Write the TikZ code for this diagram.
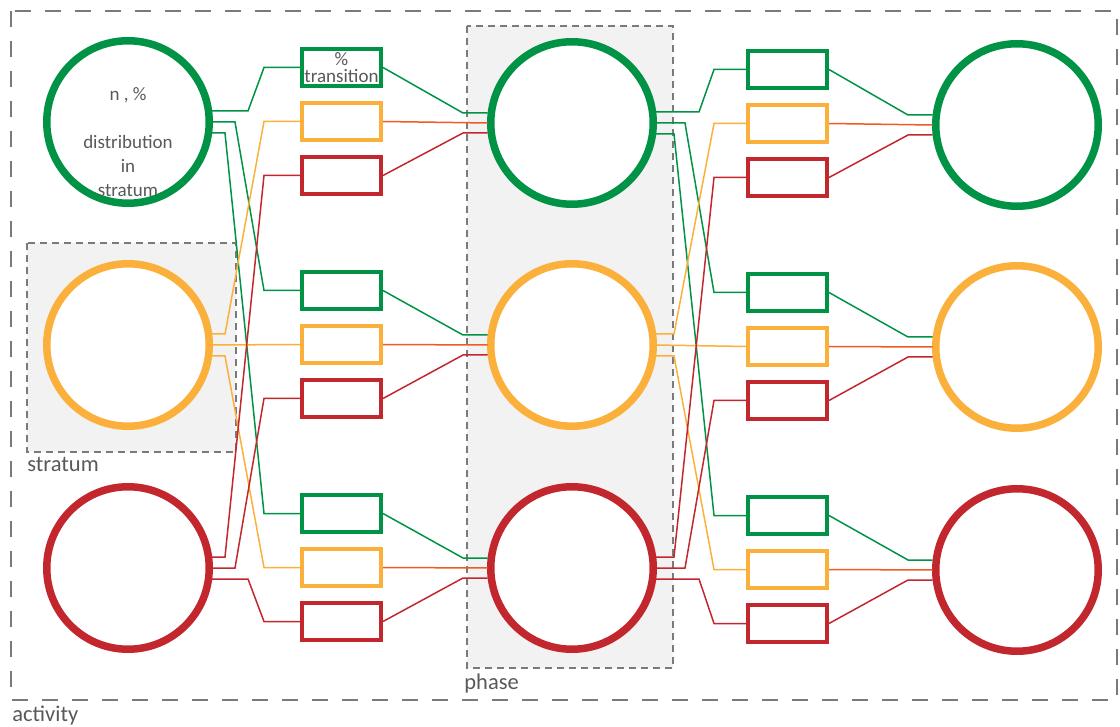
\documentclass[tikz,border=0pt]{standalone}
\usepackage{fontspec}
\setmainfont{Carlito}
\definecolor{stgreen}{HTML}{009245}
\definecolor{storange}{HTML}{FBB03B}
\definecolor{stred}{HTML}{C1272D}
\definecolor{lkorange}{HTML}{F15A24}
\definecolor{framegray}{HTML}{7A7A7A}
\definecolor{groupgray}{HTML}{F2F2F2}
\definecolor{textgray}{HTML}{595959}
\usetikzlibrary{calc,positioning}

\begin{document}
\begin{tikzpicture}[
  x=0.5pt, y=-0.5pt,
  stage/.style={circle, draw=#1, fill=white, line width=3.75pt, minimum size=81.25pt, inner sep=0pt},
  tbox/.style={draw=#1, fill=white, line width=2pt, minimum width=39.5pt, minimum height=18.5pt,
               inner sep=0pt, text=textgray, font=\fontsize{9.5}{8.6}\selectfont, align=center},
  link/.style={draw=#1, line width=0.75pt},
  frame/.style={draw=framegray, line width=1pt, dash pattern=on 8pt off 7pt},
  group/.style={draw=framegray, fill=groupgray, line width=1pt, dash pattern=on 3.5pt off 2.5pt},
  tag/.style={text=textgray, font=\fontsize{11.25}{13}\selectfont, inner sep=0pt, anchor=base west},
]
\useasboundingbox (0,0) rectangle (1120,727);

% Frames
\draw[frame] (11,11) rectangle (1117,700);
\draw[group] (27,243) rectangle (236,452);
\draw[group] (467,26) rectangle (673,668);

% Frame labels
\node[tag] (stratum-label) at (27,472) {stratum};
\node[tag] (phase-label) at (464,689) {phase};
\node[tag] (activity-label) at (12,721) {activity};

% Stage 1
\node[stage=stgreen] (g1) at (128,122) {};
\node[stage=storange] (o1) at (128,345) {};
\node[stage=stred] (r1) at (128,568) {};
\node[text=textgray, font=\fontsize{9.5}{12}\selectfont, align=center, inner sep=0pt] (g1-text)
  at ($(g1.center)+(0,20)$) {n , \%\\[12pt]distribution\\in\\stratum};

% Stage 2
\node[stage=stgreen] (g2) at (572,123) {};
\node[stage=storange] (o2) at (572,345) {};
\node[stage=stred] (r2) at (572,568) {};

% Stage 3
\node[stage=stgreen] (g3) at (1017,125) {};
\node[stage=storange] (o3) at (1017,347) {};
\node[stage=stred] (r3) at (1017,570) {};

% Transitions 1 -> 2
\node[tbox=stgreen] (t1-g-g) at (341.5,67.5) {\%\\transition};
\node[tbox=storange] (t1-g-o) at (341.5,121.5) {};
\node[tbox=stred] (t1-g-r) at (341.5,175.5) {};
\node[tbox=stgreen] (t1-o-g) at (341.5,290.5) {};
\node[tbox=storange] (t1-o-o) at (341.5,344.5) {};
\node[tbox=stred] (t1-o-r) at (341.5,398.5) {};
\node[tbox=stgreen] (t1-r-g) at (341.5,513.5) {};
\node[tbox=storange] (t1-r-o) at (341.5,567.5) {};
\node[tbox=stred] (t1-r-r) at (341.5,621.5) {};

% Transitions 2 -> 3
\node[tbox=stgreen] (t2-g-g) at (787.5,69.5) {};
\node[tbox=storange] (t2-g-o) at (787.5,123.5) {};
\node[tbox=stred] (t2-g-r) at (787.5,177.5) {};
\node[tbox=stgreen] (t2-o-g) at (787.5,292.5) {};
\node[tbox=storange] (t2-o-o) at (787.5,346.5) {};
\node[tbox=stred] (t2-o-r) at (787.5,400.5) {};
\node[tbox=stgreen] (t2-r-g) at (787.5,515.5) {};
\node[tbox=storange] (t2-r-o) at (787.5,569.5) {};
\node[tbox=stred] (t2-r-r) at (787.5,623.5) {};

% Links
\foreach \k/\n/\sa/\sb/\sc/\bd in {1/2/35/22/12/36, 2/3/42/28/17/32} {
  % out of the green stage
  \draw[link=stgreen] ($(g\k.east)+(-2,-11)$) -- ++(\sa+2,0) -- ($(t\k-g-g.west)+(-\bd,0)$) -- (t\k-g-g.west);
  \draw[link=stgreen] ($(g\k.east)+(-2,0)$) -- ++(\sb+2,0) -- ($(t\k-o-g.west)+(-\bd,0)$) -- (t\k-o-g.west);
  \draw[link=stgreen] ($(g\k.east)+(-2,11)$) -- ++(\sc+2,0) -- ($(t\k-r-g.west)+(-\bd,0)$) -- (t\k-r-g.west);
  % out of the orange stage
  \draw[link=storange] ($(o\k.east)+(-2,-11)$) -- ++(\sc+2,0) -- ($(t\k-g-o.west)+(-\bd,0)$) -- (t\k-g-o.west);
  \draw[link=storange] ($(o\k.east)+(-2,0)$) -- (t\k-o-o.west);
  \draw[link=storange] ($(o\k.east)+(-2,11)$) -- ++(\sc+2,0) -- ($(t\k-r-o.west)+(-\bd,0)$) -- (t\k-r-o.west);
  % out of the red stage
  \draw[link=stred] ($(r\k.east)+(-2,-11)$) -- ++(\sc+2,0) -- ($(t\k-g-r.west)+(-\bd,0)$) -- (t\k-g-r.west);
  \draw[link=stred] ($(r\k.east)+(-2,0)$) -- ++(\sb+2,0) -- ($(t\k-o-r.west)+(-\bd,0)$) -- (t\k-o-r.west);
  \draw[link=stred] ($(r\k.east)+(-2,11)$) -- ++(\sa+2,0) -- ($(t\k-r-r.west)+(-\bd,0)$) -- (t\k-r-r.west);
  % into the next stage
  \foreach \R in {g,o,r} {
    \draw[link=stgreen] (t\k-\R-g.east) -- ($(\R\n.west)+(-24,-10)$) -- ($(\R\n.west)+(0.5,-10)$);
    \draw[link=lkorange] (t\k-\R-o.east) -- ($(\R\n.west)+(0.5,0)$);
    \draw[link=stred] (t\k-\R-r.east) -- ($(\R\n.west)+(-24,10)$) -- ($(\R\n.west)+(0.5,10)$);
  }
}

\end{tikzpicture}
\end{document}
